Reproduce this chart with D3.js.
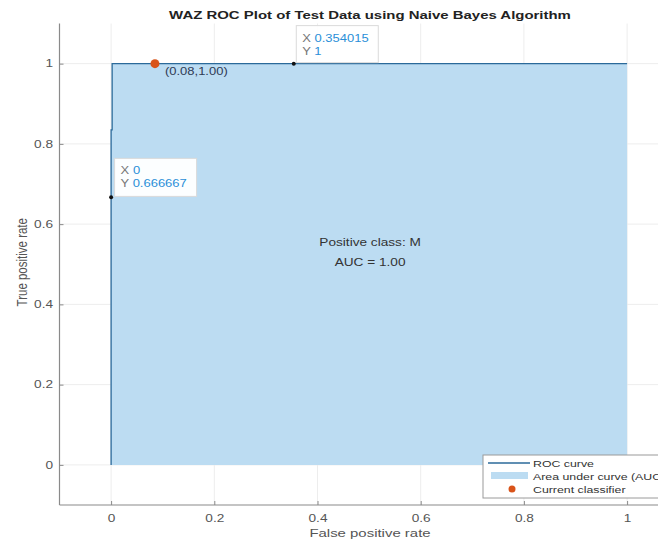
<!DOCTYPE html>
<html>
<head>
<meta charset="utf-8">
<script src="https://cdn.jsdelivr.net/npm/d3@7"></script>
<style>
  html, body { margin: 0; padding: 0; background: #ffffff; }
  svg { display: block; font-family: "Liberation Sans", Arial, Helvetica, sans-serif; }
</style>
</head>
<body>
<svg id="chart" width="658" height="543"></svg>
<script>
// ROC curve points (false positive rate, true positive rate)
const fpr = [0, 0, 0, 0.002, 0.002, 0.354015, 1];
const tpr = [0, 0.666667, 0.835, 0.835, 1, 1, 1];

// Operating point of the current classifier
const currentFpr = [0.085];
const currentTpr = [1.0];
const currentLabel = ["(0.08,1.00)"];

// Data tips pinned on the curve
const tipX = [0.354015, 0];
const tipY = [1, 0.666667];
const tipXText = ["0.354015", "0"];
const tipYText = ["1", "0.666667"];

const xTicks = [0, 0.2, 0.4, 0.6, 0.8, 1];
const yTicks = [0, 0.2, 0.4, 0.6, 0.8, 1];

const titleText = "WAZ ROC Plot of Test Data using Naive Bayes Algorithm";
const xLabel = "False positive rate";
const yLabel = "True positive rate";
const infoLines = ["Positive class: M", "AUC = 1.00"];
const legendItems = ["ROC curve", "Area under curve (AUC)", "Current classifier"];

// figure is rendered with wide horizontal text proportions
const SX = 1.3;

const svg = d3.select("#chart");

const x = d3.scaleLinear().domain([-0.1, 1.1]).range([59.5, 678.7]);
const y = d3.scaleLinear().domain([-0.1, 1.1]).range([505, 23.5]);

const fillCol = "#bcdcf2";
const lineCol = "#2b6a9a";
const markCol = "#d95319";
const axisCol = "#8a8a8a";
const textCol = "#555555";

// place a text element at (px,py) with horizontal stretch
function put(sel, px, py) {
  return sel.attr("x", 0).attr("y", 0)
    .attr("transform", `translate(${px},${py}) scale(${SX},1)`);
}

// grid
const grid = svg.append("g");
grid.selectAll("line.gx").data(xTicks).join("line")
  .attr("x1", d => x(d)).attr("x2", d => x(d))
  .attr("y1", y(-0.1)).attr("y2", y(1.1))
  .attr("stroke", "#ededed").attr("stroke-width", 1);
grid.selectAll("line.gy").data(yTicks).join("line")
  .attr("x1", x(-0.1)).attr("x2", x(1.1))
  .attr("y1", d => y(d)).attr("y2", d => y(d))
  .attr("stroke", "#ededed").attr("stroke-width", 1);

// area under the curve
const pts = fpr.map((f, i) => [f, tpr[i]]);
const area = d3.area().x(d => x(d[0])).y0(y(0)).y1(d => y(d[1]));
svg.append("path").datum(pts).attr("d", area).attr("fill", fillCol);

// ROC curve
const line = d3.line().x(d => x(d[0])).y(d => y(d[1]));
svg.append("path").datum(pts).attr("d", line)
  .attr("fill", "none").attr("stroke", lineCol).attr("stroke-width", 1.3);

// axes (ticks pointing inward)
const xAxis = d3.axisBottom(x).tickValues(xTicks).tickSize(-4).tickPadding(10)
  .tickFormat(d => d3.format("~g")(d));
const yAxis = d3.axisLeft(y).tickValues(yTicks).tickSize(-4).tickPadding(5)
  .tickFormat(d => d3.format("~g")(d));

const gx = svg.append("g").attr("transform", `translate(0,${y(-0.1)})`).call(xAxis);
const gy = svg.append("g").attr("transform", `translate(${x(-0.1)},0)`).call(yAxis);
[gx, gy].forEach(g => {
  g.select(".domain").attr("stroke", axisCol).attr("stroke-width", 1.2);
  g.selectAll(".tick line").attr("stroke", axisCol);
  g.selectAll(".tick text").attr("fill", textCol).attr("font-size", 10.5)
    .attr("font-family", "'Liberation Sans', Arial, sans-serif")
    .attr("transform", `scale(${SX},1)`);
});
gy.select(".domain").attr("d", `M0,${y(1.1)}V${y(-0.1)}`);
gx.select(".domain").attr("d", `M${x(-0.1)},0H${x(1.1)}`);

// title and axis labels
put(svg.append("text"), 370, 19).attr("text-anchor", "middle")
  .attr("font-weight", "bold").attr("font-size", 11.5).attr("fill", "#222")
  .text(titleText);
put(svg.append("text"), 370, 537).attr("text-anchor", "middle")
  .attr("font-size", 11.5).attr("fill", textCol).text(xLabel);
svg.append("text")
  .attr("transform", `translate(27,${y(0.5) - 2}) rotate(-90) scale(1,${SX})`)
  .attr("text-anchor", "middle").attr("font-size", 11.5).attr("fill", textCol)
  .text(yLabel);

// class / AUC annotation
svg.selectAll("text.info").data(infoLines).join("text")
  .attr("class", "info")
  .attr("x", 0).attr("y", 0)
  .attr("transform", (d, i) => `translate(${x(0.5) + 1},${y(0.545) + i * 20}) scale(${SX},1)`)
  .attr("text-anchor", "middle").attr("font-size", 10.5).attr("fill", "#333")
  .text(d => d);

// current classifier marker
svg.selectAll("circle.cur").data(currentFpr).join("circle")
  .attr("class", "cur")
  .attr("cx", d => x(d)).attr("cy", (d, i) => y(currentTpr[i]))
  .attr("r", 4.5).attr("fill", markCol);
svg.selectAll("text.cur").data(currentLabel).join("text")
  .attr("class", "cur")
  .attr("x", 0).attr("y", 0)
  .attr("transform", (d, i) => `translate(${x(currentFpr[i]) + 10},${y(currentTpr[i]) + 11}) scale(${SX},1)`)
  .attr("font-size", 10).attr("fill", "#2f3b55").text(d => d);

// data tips
const tipW = [82, 82];
const tipH = [37, 38];
const tipDx = [2.5, 3.5];
tipX.forEach((tx, i) => {
  const px = x(tx), py = y(tipY[i]);
  const bx = px + tipDx[i];
  const by = py - tipH[i] - 1;
  svg.append("rect").attr("x", bx).attr("y", by)
    .attr("width", tipW[i]).attr("height", tipH[i])
    .attr("fill", "#ffffff").attr("fill-opacity", 0.95)
    .attr("stroke", "#dadada").attr("stroke-width", 1);
  const t1 = put(svg.append("text"), bx + 6, by + 16).attr("font-size", 10);
  t1.append("tspan").attr("fill", "#777").text("X ");
  t1.append("tspan").attr("fill", "#2a8fd8").text(tipXText[i]);
  const t2 = put(svg.append("text"), bx + 6, by + 29).attr("font-size", 10);
  t2.append("tspan").attr("fill", "#777").text("Y ");
  t2.append("tspan").attr("fill", "#2a8fd8").text(tipYText[i]);
  svg.append("circle").attr("cx", px).attr("cy", py).attr("r", 2).attr("fill", "#111");
});

// legend (extends past the right edge of the figure)
const lg = svg.append("g").attr("transform", "translate(483,455)");
lg.append("rect").attr("width", 200).attr("height", 43)
  .attr("fill", "#ffffff").attr("stroke", "#9a9a9a").attr("stroke-width", 1);
lg.append("line").attr("x1", 5).attr("x2", 47).attr("y1", 8).attr("y2", 8)
  .attr("stroke", lineCol).attr("stroke-width", 1.6);
lg.append("rect").attr("x", 8).attr("y", 17).attr("width", 37).attr("height", 7)
  .attr("fill", fillCol);
lg.append("circle").attr("cx", 29).attr("cy", 34).attr("r", 3.5).attr("fill", markCol);
lg.selectAll("text").data(legendItems).join("text")
  .attr("x", 0).attr("y", 0)
  .attr("transform", (d, i) => `translate(50,${11.5 + i * 13}) scale(${SX},1)`)
  .attr("font-size", 9.5).attr("fill", "#333").text(d => d);
</script>
</body>
</html>
